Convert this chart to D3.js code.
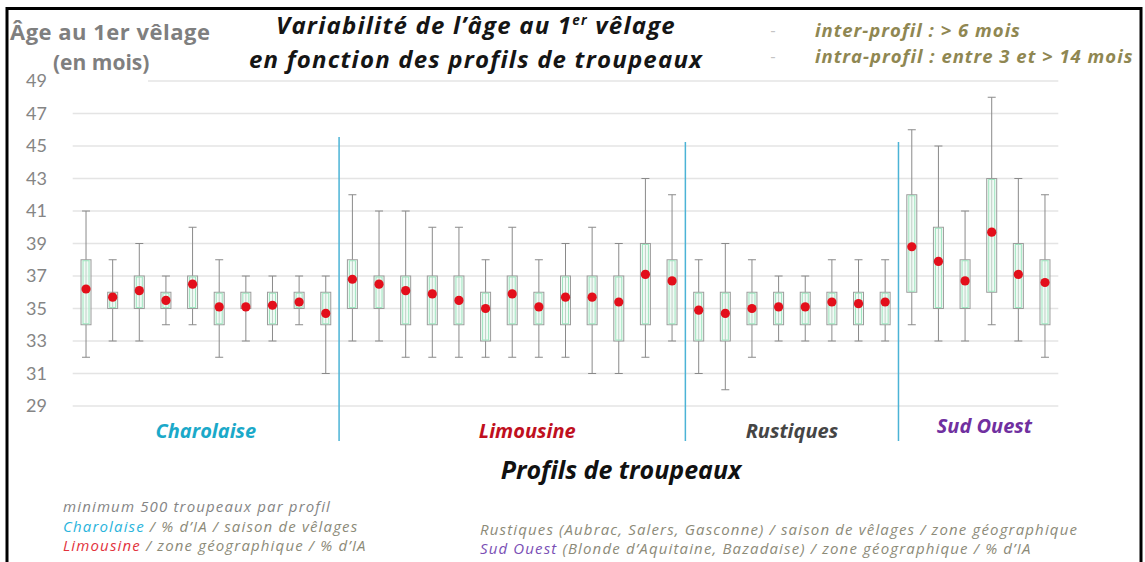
<!DOCTYPE html>
<html>
<head>
<meta charset="utf-8">
<script src="https://cdn.jsdelivr.net/npm/d3@7"></script>
<style>
  body { margin: 0; background: #fff; }
  svg { display: block; }
</style>
</head>
<body>
<svg id="chart" width="1145" height="562"></svg>
<script>
// profils de troupeaux (groupes) et nombre de boites par groupe
const profils = ["Charolaise", "Limousine", "Rustiques", "Sud Ouest"];
const profilSizes = [10, 13, 8, 6];
const profilColors = ["#1ba9c9", "#c0101e", "#454545", "#7030a0"];

const yTicks = [29, 31, 33, 35, 37, 39, 41, 43, 45, 47, 49];

// valeurs (mois), une entree par boite
const whiskerLow = [
  32, 33, 33, 34, 34, 32, 33, 33, 34, 31,
  33, 33, 32, 32, 32, 32, 32, 32, 32, 31, 31, 32, 33,
  31, 30, 32, 33, 33, 33, 33, 33,
  34, 33, 33, 34, 33, 32
];
const boxLow = [
  34, 35, 35, 35, 35, 34, 35, 34, 35, 34,
  35, 35, 34, 34, 34, 33, 34, 34, 34, 34, 33, 34, 34,
  33, 33, 34, 34, 34, 34, 34, 34,
  36, 35, 35, 36, 35, 34
];
const boxHigh = [
  38, 36, 37, 36, 37, 36, 36, 36, 36, 36,
  38, 37, 37, 37, 37, 36, 37, 36, 37, 37, 37, 39, 38,
  36, 36, 36, 36, 36, 36, 36, 36,
  42, 40, 38, 43, 39, 38
];
const whiskerHigh = [
  41, 38, 39, 37, 40, 38, 37, 37, 37, 37,
  42, 41, 41, 40, 40, 38, 40, 38, 39, 40, 39, 43, 42,
  38, 39, 38, 37, 37, 38, 38, 38,
  46, 45, 41, 48, 43, 42
];
const means = [
  36.2, 35.7, 36.1, 35.5, 36.5, 35.1, 35.1, 35.2, 35.4, 34.7,
  36.8, 36.5, 36.1, 35.9, 35.5, 35.0, 35.9, 35.1, 35.7, 35.7, 35.4, 37.1, 36.7,
  34.9, 34.7, 35.0, 35.1, 35.1, 35.4, 35.3, 35.4,
  38.8, 37.9, 36.7, 39.7, 37.1, 36.6
];

const svg = d3.select("#chart");
const heading = "'Open Sans', Lato, sans-serif";

const x = d3.scaleBand()
  .domain(d3.range(means.length))
  .range([72.7, 1058.3]);
const y = d3.scaleLinear().domain([29, 49]).range([406, 81]);

// frame
svg.append("rect")
  .attr("x", 7).attr("y", 8.5)
  .attr("width", 1134).attr("height", 620)
  .attr("fill", "none")
  .attr("stroke", "#000")
  .attr("stroke-width", 3);

// grid
svg.append("g")
  .selectAll("line")
  .data(yTicks)
  .enter().append("line")
  .attr("x1", x.range()[0]).attr("x2", x.range()[1])
  .attr("y1", (d) => y(d)).attr("y2", (d) => y(d))
  .attr("stroke", "#e4e4e4")
  .attr("stroke-width", 1.5);

// y axis labels
const yAxis = svg.append("g")
  .attr("transform", "translate(47,0)")
  .call(d3.axisLeft(y).tickValues(yTicks).tickSize(0).tickPadding(0));
yAxis.select(".domain").remove();
yAxis.selectAll("text")
  .attr("font-family", "Lato, sans-serif")
  .attr("font-size", 18)
  .attr("fill", "#858585");

// axis title
svg.append("rect")
  .attr("x", 50).attr("y", 54).attr("width", 98).attr("height", 30)
  .attr("fill", "#fff");
svg.append("text")
  .attr("x", 10).attr("y", 40)
  .attr("font-family", heading)
  .attr("font-weight", "bold")
  .attr("font-size", 22)
  .attr("letter-spacing", 0.5)
  .attr("fill", "#7f7f7f")
  .text("Âge au 1er vêlage");
svg.append("text")
  .attr("x", 53).attr("y", 70)
  .attr("font-family", heading)
  .attr("font-weight", "bold")
  .attr("font-size", 21)
  .attr("fill", "#7f7f7f")
  .text("(en mois)");

// title
function boldItalic(sel, size) {
  return sel.attr("font-family", heading)
    .attr("font-weight", "bold")
    .attr("font-style", "italic")
    .attr("font-size", size);
}
const title = boldItalic(svg.append("text"), 24)
  .attr("x", 476).attr("y", 34)
  .attr("text-anchor", "middle")
  .attr("letter-spacing", 1.2)
  .attr("fill", "#151515");
title.append("tspan").text("Variabilité de l’âge au 1");
title.append("tspan").attr("font-size", 13.5).attr("dy", -9).text("er");
title.append("tspan").attr("dy", 9).text(" vêlage");
boldItalic(svg.append("text"), 24)
  .attr("x", 476).attr("y", 68)
  .attr("text-anchor", "middle")
  .attr("letter-spacing", 1.2)
  .attr("fill", "#151515")
  .text("en fonction des profils de troupeaux");

// legend top right
const notesTop = ["inter-profil : > 6 mois", "intra-profil : entre 3 et > 14 mois"];
notesTop.forEach((t, i) => {
  svg.append("text")
    .attr("x", 770).attr("y", 36 + i * 26)
    .attr("font-family", "Lato, sans-serif")
    .attr("font-size", 16)
    .attr("fill", "#c4c4c4")
    .text("-");
  boldItalic(svg.append("text"), 18.5)
    .attr("x", 815).attr("y", 37 + i * 26)
    .attr("letter-spacing", 1)
    .attr("fill", "#8f8752")
    .text(t);
});

// separators and group labels
let start = 0;
const labelDx = [0, 15, 0, 6];
const labelY = [438, 438, 438, 433];
profils.forEach((p, i) => {
  const x0 = x(start);
  const x1 = start + profilSizes[i] < means.length ? x(start + profilSizes[i]) : x.range()[1];
  if (i > 0) {
    svg.append("line")
      .attr("x1", x0).attr("x2", x0)
      .attr("y1", i === 1 ? 137 : 142).attr("y2", 441)
      .attr("stroke", "#4bb3d6")
      .attr("stroke-width", 1.5);
  }
  boldItalic(svg.append("text"), 20)
    .attr("x", (x0 + x1) / 2 + labelDx[i]).attr("y", labelY[i])
    .attr("text-anchor", "middle")
    .attr("fill", profilColors[i])
    .text(p);
  start += profilSizes[i];
});

// box plots
const boxes = means.map((m, i) => ({
  i, lo: whiskerLow[i], q1: boxLow[i], q3: boxHigh[i], hi: whiskerHigh[i], mean: m
}));
const bw = 10;
const cap = 8;
const g = svg.append("g")
  .selectAll("g")
  .data(boxes)
  .enter().append("g")
  .attr("transform", (d) => `translate(${x(d.i) + x.bandwidth() / 2},0)`);

g.append("line")
  .attr("y1", (d) => y(d.lo)).attr("y2", (d) => y(d.hi))
  .attr("stroke", "#8a8a8a").attr("stroke-width", 1);
g.append("line")
  .attr("x1", -cap / 2).attr("x2", cap / 2)
  .attr("y1", (d) => y(d.hi)).attr("y2", (d) => y(d.hi))
  .attr("stroke", "#8a8a8a");
g.append("line")
  .attr("x1", -cap / 2).attr("x2", cap / 2)
  .attr("y1", (d) => y(d.lo)).attr("y2", (d) => y(d.lo))
  .attr("stroke", "#8a8a8a");
g.append("rect")
  .attr("x", -bw / 2).attr("width", bw)
  .attr("y", (d) => y(d.q3)).attr("height", (d) => y(d.q1) - y(d.q3))
  .attr("fill", "#e6f8ee").attr("fill-opacity", 0.6)
  .attr("stroke", "#9c9c9c").attr("stroke-width", 1);
g.append("rect")
  .attr("x", -bw / 2 + 2).attr("width", bw - 4)
  .attr("y", (d) => y(d.q3) + 1).attr("height", (d) => y(d.q1) - y(d.q3) - 2)
  .attr("fill", "none")
  .attr("stroke", "#9fe6c0").attr("stroke-width", 1);
g.append("circle")
  .attr("cy", (d) => y(d.mean))
  .attr("r", 4.6)
  .attr("fill", "#e30f1b");

// x axis title
boldItalic(svg.append("text"), 25)
  .attr("x", 621).attr("y", 479)
  .attr("text-anchor", "middle")
  .attr("fill", "#111")
  .text("Profils de troupeaux");

// notes at the bottom
const noteGray = "#8c8a78";
function note(xp, yp, parts) {
  const t = svg.append("text")
    .attr("x", xp).attr("y", yp)
    .attr("font-family", "'Open Sans', sans-serif")
    .attr("font-style", "italic")
    .attr("font-size", 15)
    .attr("letter-spacing", 1.15)
    .attr("fill", noteGray);
  parts.forEach(([s, c]) => t.append("tspan").attr("fill", c).text(s));
}
note(63, 512, [["minimum 500 troupeaux par profil", "#858585"]]);
note(63, 532, [["Charolaise", "#2ab4dc"], [" / % d’IA / saison de vêlages", noteGray]]);
note(63, 551, [["Limousine", "#e2323c"], [" / zone géographique / % d’IA", noteGray]]);
note(480, 535, [["Rustiques (Aubrac, Salers, Gasconne) / saison de vêlages  / zone géographique", noteGray]]);
note(480, 554, [["Sud Ouest", "#7a4fb5"], [" (Blonde d’Aquitaine, Bazadaise) / zone géographique / % d’IA", noteGray]]);
</script>
</body>
</html>
